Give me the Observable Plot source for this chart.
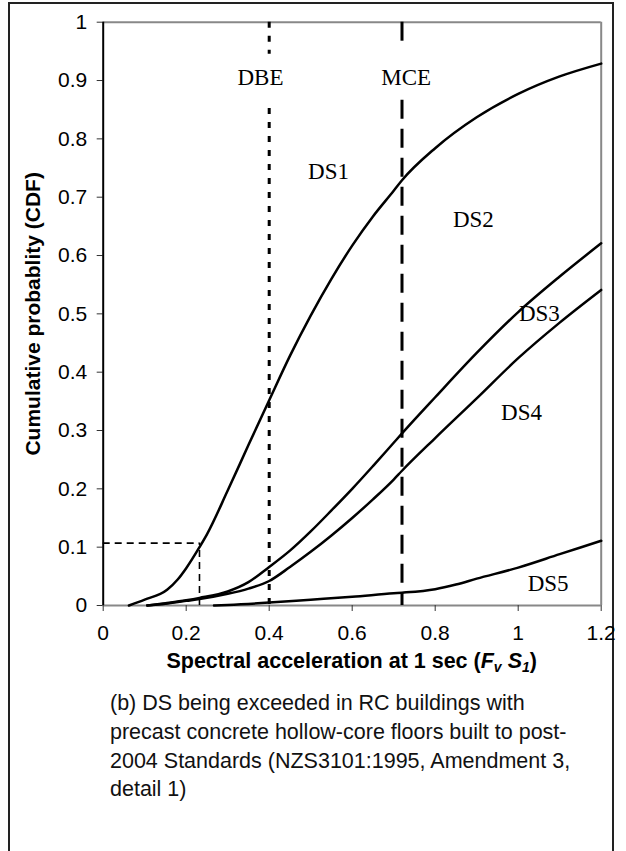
<!DOCTYPE html>
<html>
<head>
<meta charset="utf-8">
<script src="https://cdn.jsdelivr.net/npm/d3@7"></script>
<script src="https://cdn.jsdelivr.net/npm/@observablehq/plot@0.6"></script>
<style>
  html, body { margin: 0; padding: 0; width: 626px; height: 851px; overflow: hidden; background: #fff; }
  #frame { position: absolute; left: 8px; top: 2px; width: 606px; height: 920px; border: 2px solid #222; box-sizing: border-box; }
  #chart { position: absolute; left: 0; top: 0; }
  #xlabel { position: absolute; left: 102.7px; width: 498px; top: 648px; text-align: center;
            font-family: "Liberation Sans", Arial, sans-serif; font-weight: bold; font-size: 21.5px; line-height: 26px; }
  #xlabel sub { font-size: 14px; vertical-align: -4px; }
  #caption { position: absolute; left: 110px; top: 689px; width: 505px;
             font-family: "Liberation Sans", Arial, sans-serif; font-size: 21.5px; line-height: 28.8px; color: #111; }
</style>
</head>
<body>
<div id="frame"></div>
<div id="chart"></div>
<div id="xlabel">Spectral acceleration at 1 sec (<i>F</i><sub><i>v</i></sub> <i>S</i><sub><i>1</i></sub>)</div>
<div id="caption">(b) DS being exceeded in RC buildings with<br>precast concrete hollow-core floors built to post-<br>2004 Standards (NZS3101:1995, Amendment 3,<br>detail 1)</div>
<script>
// ---- data ----
const xTicks = [0, 0.2, 0.4, 0.6, 0.8, 1, 1.2];
const yTicks = [0, 0.1, 0.2, 0.3, 0.4, 0.5, 0.6, 0.7, 0.8, 0.9, 1];

// top curve (DS1 / DS2 boundary)
const xC1 = [0.062, 0.10, 0.154, 0.18, 0.20, 0.232, 0.25, 0.30, 0.35, 0.40, 0.45, 0.50, 0.55, 0.60, 0.65, 0.70, 0.72, 0.80, 0.90, 1.00, 1.10, 1.20];
const yC1 = [0.000, 0.010, 0.027, 0.045, 0.064, 0.100, 0.122, 0.197, 0.275, 0.352, 0.428, 0.497, 0.560, 0.617, 0.667, 0.711, 0.729, 0.784, 0.837, 0.877, 0.907, 0.929];

// second curve (DS2 / DS3 boundary)
const xC2 = [0.106, 0.15, 0.20, 0.232, 0.30, 0.35, 0.40, 0.45, 0.50, 0.55, 0.60, 0.65, 0.70, 0.72, 0.80, 0.90, 1.00, 1.10, 1.20];
const yC2 = [0.000, 0.004, 0.009, 0.013, 0.024, 0.040, 0.066, 0.094, 0.127, 0.163, 0.200, 0.239, 0.279, 0.295, 0.357, 0.433, 0.503, 0.564, 0.621];

// third curve (DS3 / DS4 boundary)
const xC3 = [0.106, 0.15, 0.20, 0.232, 0.30, 0.35, 0.40, 0.45, 0.50, 0.55, 0.60, 0.65, 0.70, 0.72, 0.80, 0.90, 1.00, 1.10, 1.20];
const yC3 = [0.000, 0.003, 0.008, 0.011, 0.020, 0.029, 0.042, 0.066, 0.092, 0.120, 0.150, 0.182, 0.216, 0.231, 0.287, 0.355, 0.424, 0.485, 0.541];

// bottom curve (DS4 / DS5 boundary)
const xC4 = [0.267, 0.30, 0.40, 0.50, 0.60, 0.70, 0.72, 0.80, 0.85, 0.90, 1.00, 1.10, 1.20];
const yC4 = [0.000, 0.001, 0.005, 0.010, 0.015, 0.021, 0.022, 0.028, 0.036, 0.046, 0.065, 0.088, 0.111];

// design levels
const dbeX = 0.4, mceX = 0.72;
// 10% example guide
const guideX = 0.232, guideY = 0.107;

// labels
const labelText = ["DBE", "MCE", "DS1", "DS2", "DS3", "DS4", "DS5"];
const labelX = [0.379, 0.730, 0.543, 0.892, 1.051, 1.008, 1.072];
const labelY = [0.905, 0.905, 0.743, 0.662, 0.500, 0.331, 0.037];

// ---- build tables ----
const curves = [[xC1, yC1, "c1"], [xC2, yC2, "c2"], [xC3, yC3, "c3"], [xC4, yC4, "c4"]]
  .flatMap(([xs, ys, k]) => xs.map((x, i) => ({x, y: ys[i], k})));
const labels = labelText.map((t, i) => ({t, x: labelX[i], y: labelY[i]}));

const sans = "'Liberation Sans', Arial, sans-serif";
const serif = "'Liberation Serif', 'Times New Roman', serif";

const plot = Plot.plot({
  width: 626,
  height: 650,
  marginLeft: 102.7,
  marginRight: 25.3,
  marginTop: 21.7,
  marginBottom: 45,
  style: {fontFamily: sans, fontSize: "21px", color: "#000", background: "transparent"},
  x: {domain: [0, 1.2]},
  y: {domain: [0, 1]},
  marks: [
    // frame: top, right, bottom in gray
    Plot.ruleY([1], {stroke: "#888", strokeWidth: 2}),
    Plot.ruleX([1.2], {stroke: "#888", strokeWidth: 2}),
    Plot.ruleY([0], {stroke: "#888", strokeWidth: 2}),
    // guide for 10% example
    Plot.ruleY([guideY], {x1: 0, x2: guideX, stroke: "#000", strokeWidth: 1.6, strokeDasharray: "7,5"}),
    Plot.ruleX([guideX], {y1: 0, y2: guideY, stroke: "#000", strokeWidth: 1.6, strokeDasharray: "7,5"}),
    // DBE dotted line with gap for label
    Plot.ruleX([dbeX], {y1: 1, y2: 0.945, stroke: "#000", strokeWidth: 3, strokeDasharray: "6,8"}),
    Plot.ruleX([dbeX], {y1: 0.852, y2: 0, stroke: "#000", strokeWidth: 3, strokeDasharray: "6,8"}),
    // MCE dashed line with gap for label
    Plot.ruleX([mceX], {y1: 1, y2: 0.951, stroke: "#000", strokeWidth: 3, strokeDasharray: "19,10"}),
    Plot.ruleX([mceX], {y1: 0.866, y2: 0, stroke: "#000", strokeWidth: 3, strokeDasharray: "19,10"}),
    // curves
    Plot.line(curves, {x: "x", y: "y", z: "k", stroke: "#000", strokeWidth: 2.5, curve: "monotone-x"}),
    // labels
    Plot.text(labels, {x: "x", y: "y", text: "t", fontFamily: serif, fontSize: 23, fill: "#000"}),
    // axes
    Plot.axisX({ticks: xTicks, tickFormat: d => String(d), tickSize: 6, tickPadding: 14, label: null, stroke: "#333", fontSize: 21}),
    Plot.axisY({ticks: yTicks, tickFormat: d => String(d), tickSize: 6, tickPadding: 10, label: null, stroke: "#333", fontSize: 21}),
    Plot.ruleX([0], {stroke: "#000", strokeWidth: 2}),
    // y axis title
    Plot.text(["Cumulative probablity (CDF)"], {frameAnchor: "left", dx: -70, rotate: -90, text: d => d,
      textAnchor: "middle", lineAnchor: "middle",
      fontFamily: sans, fontWeight: "bold", fontSize: 21, fill: "#000"})
  ]
});
document.getElementById("chart").appendChild(plot);
</script>
</body>
</html>
